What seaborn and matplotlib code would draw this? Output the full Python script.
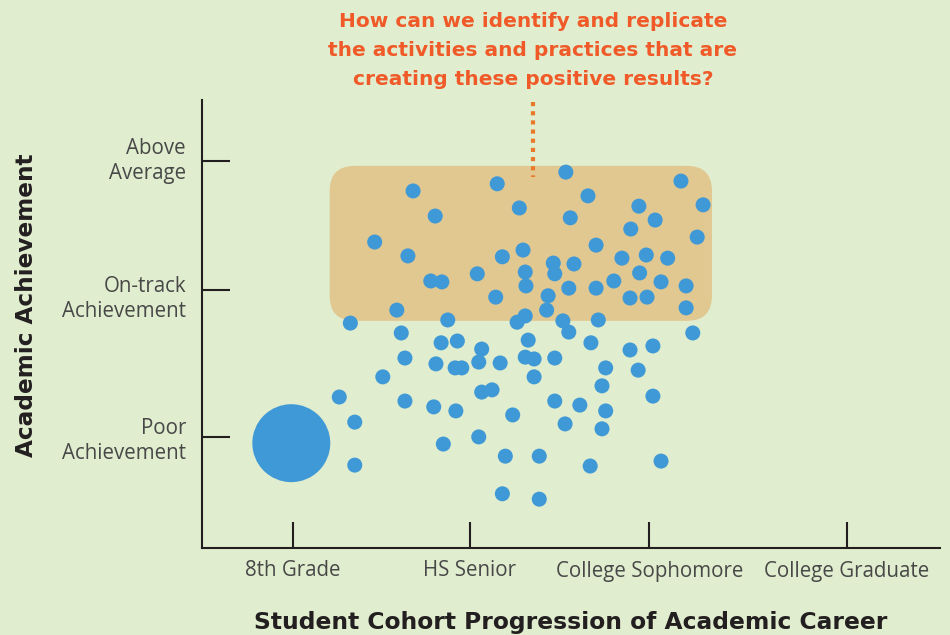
import matplotlib.pyplot as plt
import matplotlib.patches as mpatches
import matplotlib.transforms as mtransforms
import seaborn as sns
import pandas as pd

# student positions: x = progression (0-100 scale), y = achievement (0-100 scale)
student_x = [28.6, 40.0, 31.6, 23.4, 27.9, 40.7, 31.0, 32.5, 37.3, 39.8,
             26.4, 20.1, 33.3, 49.3, 64.9, 52.3, 43.0, 59.2, 67.9, 49.9,
             61.4, 58.1, 67.1, 43.5, 53.4, 56.9, 60.2, 63.1, 47.6, 50.4,
             43.8, 47.8, 59.3, 55.8, 62.2, 43.9, 49.7, 53.4, 65.6, 46.9,
             58.0, 60.3, 46.7, 65.6, 43.8, 42.7, 48.9, 53.7, 49.7, 66.5,
             27.0, 32.4, 34.6, 37.9, 27.5, 31.7, 34.3, 35.2, 37.5, 40.4,
             24.5, 37.9, 39.3, 18.6, 27.5, 31.4, 34.4, 42.1, 20.7, 37.5,
             32.7, 41.1, 20.7, 40.7, 44.2, 52.7, 58.0, 61.1, 43.8, 45.0,
             47.8, 54.7, 59.1, 45.0, 54.2, 47.8, 51.2, 54.7, 61.1, 49.2,
             54.2, 45.7, 52.6, 62.2, 45.7]
student_y = [79.7, 81.3, 74.1, 68.3, 65.2, 65.0, 59.6, 59.4, 61.2, 56.0,
             53.1, 50.2, 50.9, 83.9, 81.9, 78.6, 75.9, 76.3, 76.6, 73.7,
             73.2, 71.2, 69.4, 66.5, 67.6, 64.7, 65.4, 64.7, 63.6, 63.4,
             61.6, 61.2, 61.4, 59.6, 59.4, 58.5, 58.0, 58.0, 58.5, 56.3,
             55.8, 56.0, 53.1, 53.6, 51.8, 50.4, 50.7, 50.9, 48.2, 48.0,
             48.0, 45.8, 46.2, 44.4, 42.4, 41.1, 40.2, 40.2, 41.5, 41.3,
             38.2, 34.8, 35.3, 33.7, 32.8, 31.5, 30.6, 29.7, 28.1, 24.8,
             23.2, 20.5, 18.5, 12.1, 46.4, 45.8, 44.2, 45.1, 42.6, 42.2,
             42.4, 40.2, 39.7, 38.2, 36.2, 32.8, 31.9, 30.6, 33.9, 27.7,
             26.6, 20.5, 18.3, 19.4, 10.9]

# the starting cohort (8th grade) shown as one big dot
cohort_x = [12.1]
cohort_y = [23.4]

x_ticks = [12.3, 36.3, 60.6, 87.4]
x_labels = ["8th Grade", "HS Senior", "College Sophomore", "College Graduate"]
y_ticks = [24.8, 57.6, 86.4]
y_labels = ["Poor\nAchievement", "On-track\nAchievement", "Above\nAverage"]

bg = "#e0edce"
blue = "#3f99d6"
orange = "#f05a28"

sns.set_style("white")
plt.rcParams["font.family"] = ["Open Sans", "DejaVu Sans"]

fig = plt.figure(figsize=(9.5, 6.35), dpi=100, facecolor=bg)
ax = fig.add_axes([202 / 950, 1 - 548 / 635, 738 / 950, 448 / 635])
ax.set_facecolor(bg)

# highlighted region with rounded corners (aspect corrected)
box = mpatches.FancyBboxPatch((17.3, 50.7), 69.1 - 17.3, 85.3 - 50.7,
                              boxstyle="round,pad=0,rounding_size=3.4",
                              mutation_aspect=1.647, facecolor="#e1c891",
                              edgecolor="none", zorder=1)
ax.add_patch(box)

df = pd.DataFrame({"x": student_x, "y": student_y})
sns.scatterplot(data=df, x="x", y="y", s=117, color=blue, edgecolor="none",
                linewidth=0, ax=ax, zorder=3)
sns.scatterplot(x=cohort_x, y=cohort_y, s=3150, color=blue, edgecolor="none",
                linewidth=0, ax=ax, zorder=3)

# dotted pointer from the question down to the box
ax.plot([44.9, 44.9], [99.6, 82.8], linestyle=(0, (1, 1.2)), linewidth=3,
        color="#e8792a", clip_on=False, zorder=2)

ax.set_xlim(0, 100)
ax.set_ylim(0, 100)
ax.set_xticks(x_ticks)
ax.set_xticklabels(x_labels)
ax.set_yticks(y_ticks)
ax.set_yticklabels(y_labels, ha="right", multialignment="right")

for side in ["top", "right"]:
    ax.spines[side].set_visible(False)
for side in ["left", "bottom"]:
    ax.spines[side].set_color("#231f20")
    ax.spines[side].set_linewidth(1.5)

ax.tick_params(axis="x", bottom=True, direction="in", length=19, width=1.5,
               color="#231f20", pad=9, labelsize=14.8, labelcolor="#484848")
ax.tick_params(axis="y", left=True, direction="in", length=20, width=1.5,
               color="#231f20", pad=11.5, labelsize=14.8, labelcolor="#484848")

# nudge the two-line labels a little, as in the original layout
nudges = [0, -5, 4]
for lbl, dy in zip(ax.get_yticklabels(), nudges):
    lbl.set_linespacing(1.2)
    lbl.set_transform(lbl.get_transform() +
                      mtransforms.ScaledTranslation(0, dy / 100, fig.dpi_scale_trans))

ax.set_xlabel("Student Cohort Progression of Academic Career", fontsize=16.8,
              fontweight="bold", color="#231f20", family="DejaVu Sans")
ax.xaxis.set_label_coords(0.499, -0.14)
ax.set_ylabel("Academic Achievement", fontsize=16.7, fontweight="bold",
              color="#231f20", family="DejaVu Sans")
ax.yaxis.set_label_coords(-0.222, 0.542)

fig.text(533 / 950, 1 - 50.5 / 635,
         "How can we identify and replicate\nthe activities and practices that are\n"
         "creating these positive results?",
         ha="center", va="center", fontsize=14.5, fontweight="bold",
         color=orange, linespacing=1.64, family="DejaVu Sans")

plt.savefig("out.png", dpi=100, facecolor=bg)
